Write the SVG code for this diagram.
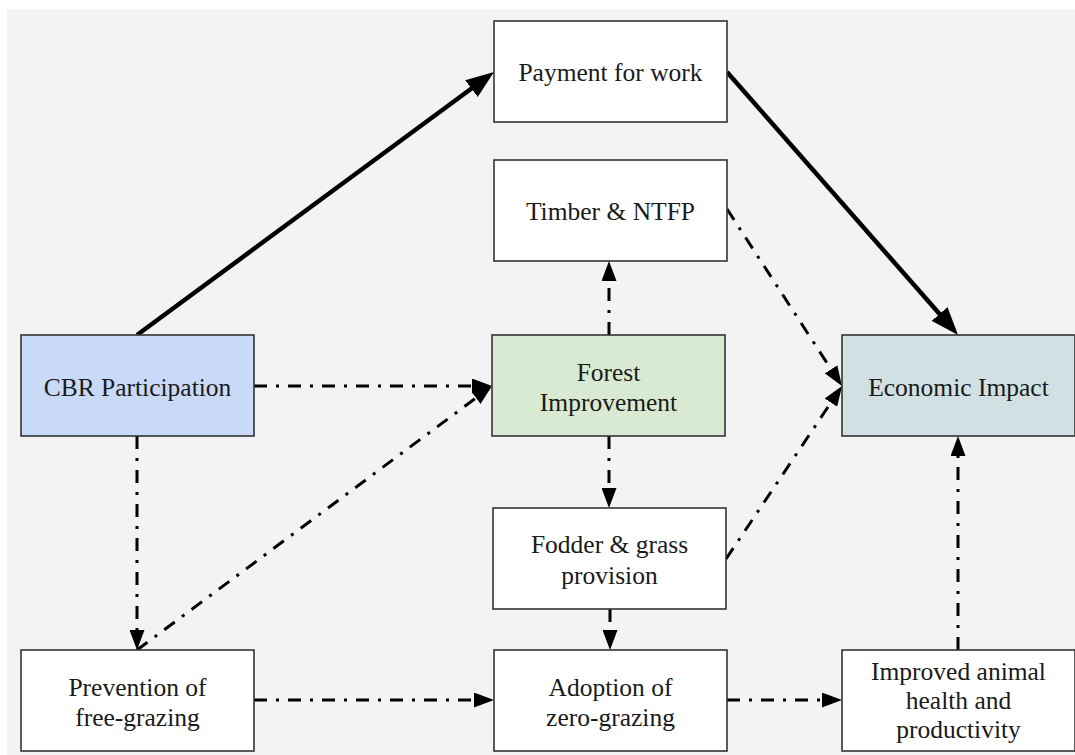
<svg xmlns="http://www.w3.org/2000/svg" width="1075" height="755" viewBox="0 0 1075 755">
<style>
.box{stroke:#333333;stroke-width:1.6}
.t{font-family:"Liberation Serif","Times New Roman",serif;font-size:25.5px;fill:#1a1a1a;text-anchor:middle}
.solid{stroke:#000;stroke-width:4.5;fill:none}
.dd{stroke:#000;stroke-width:3;fill:none;stroke-dasharray:13 9 3 9}
</style>
<defs>
<marker id="big" markerUnits="userSpaceOnUse" markerWidth="28" markerHeight="21" refX="14" refY="10.5" orient="auto"><path d="M0,0 L28,10.5 L0,21 z" fill="#000"/></marker>
<marker id="sm" markerUnits="userSpaceOnUse" markerWidth="20" markerHeight="15" refX="10" refY="7.5" orient="auto"><path d="M0,0 L20,7.5 L0,15 z" fill="#000"/></marker>
</defs>
<rect x="7" y="9" width="1068" height="746" fill="#f3f3f3"/>
<g id="connectors">
<line class="solid" x1="137" y1="335" x2="482.7" y2="80.3" marker-end="url(#big)"/>
<line class="solid" x1="727" y1="72" x2="948.8" y2="324.5" marker-end="url(#big)"/>
<line class="dd" x1="254" y1="386" x2="482" y2="386" marker-end="url(#sm)"/>
<line class="dd" x1="137" y1="436" x2="137" y2="640" marker-end="url(#sm)"/>
<line class="dd" x1="137" y1="650" x2="484" y2="392" marker-end="url(#sm)"/>
<line class="dd" x1="609" y1="335" x2="609" y2="271" marker-end="url(#sm)"/>
<line class="dd" x1="727" y1="209" x2="836.5" y2="377.6" marker-end="url(#sm)"/>
<line class="dd" x1="609" y1="436" x2="609" y2="498" marker-end="url(#sm)"/>
<line class="dd" x1="726" y1="559" x2="836.5" y2="394.3" marker-end="url(#sm)"/>
<line class="dd" x1="610" y1="609" x2="610" y2="640" marker-end="url(#sm)"/>
<line class="dd" x1="254" y1="700" x2="484" y2="700" marker-end="url(#sm)"/>
<line class="dd" x1="727" y1="700" x2="832" y2="700" marker-end="url(#sm)"/>
<line class="dd" x1="958" y1="650" x2="958" y2="446" marker-end="url(#sm)"/>
</g>
<g id="payment"><rect class="box" x="494" y="21" width="233" height="101" fill="#ffffff"/><text class="t" x="610.5" y="81">Payment for work</text></g>
<g id="timber"><rect class="box" x="494" y="160" width="233" height="101" fill="#ffffff"/><text class="t" x="610.5" y="220">Timber &amp; NTFP</text></g>
<g id="cbr"><rect class="box" x="21" y="335" width="233" height="101" fill="#c9daf8"/><text class="t" x="137.5" y="396">CBR Participation</text></g>
<g id="forest"><rect class="box" x="492" y="335" width="233" height="101" fill="#d9ead3"/><text class="t" x="608.5" y="381">Forest</text><text class="t" x="608.5" y="411">Improvement</text></g>
<g id="economic"><rect class="box" x="842" y="335" width="233" height="101" fill="#d0e0e3"/><text class="t" x="958.5" y="396">Economic Impact</text></g>
<g id="fodder"><rect class="box" x="493" y="508" width="233" height="101" fill="#ffffff"/><text class="t" x="609.5" y="553">Fodder &amp; grass</text><text class="t" x="609.5" y="584">provision</text></g>
<g id="prevention"><rect class="box" x="21" y="650" width="233" height="101" fill="#ffffff"/><text class="t" x="137.5" y="696">Prevention of</text><text class="t" x="137.5" y="726">free-grazing</text></g>
<g id="adoption"><rect class="box" x="494" y="650" width="233" height="101" fill="#ffffff"/><text class="t" x="610.5" y="696">Adoption of</text><text class="t" x="610.5" y="726">zero-grazing</text></g>
<g id="improved"><rect class="box" x="842" y="650" width="233" height="101" fill="#ffffff"/><text class="t" x="958.5" y="680">Improved animal</text><text class="t" x="958.5" y="709">health and</text><text class="t" x="958.5" y="738">productivity</text></g>
</svg>
